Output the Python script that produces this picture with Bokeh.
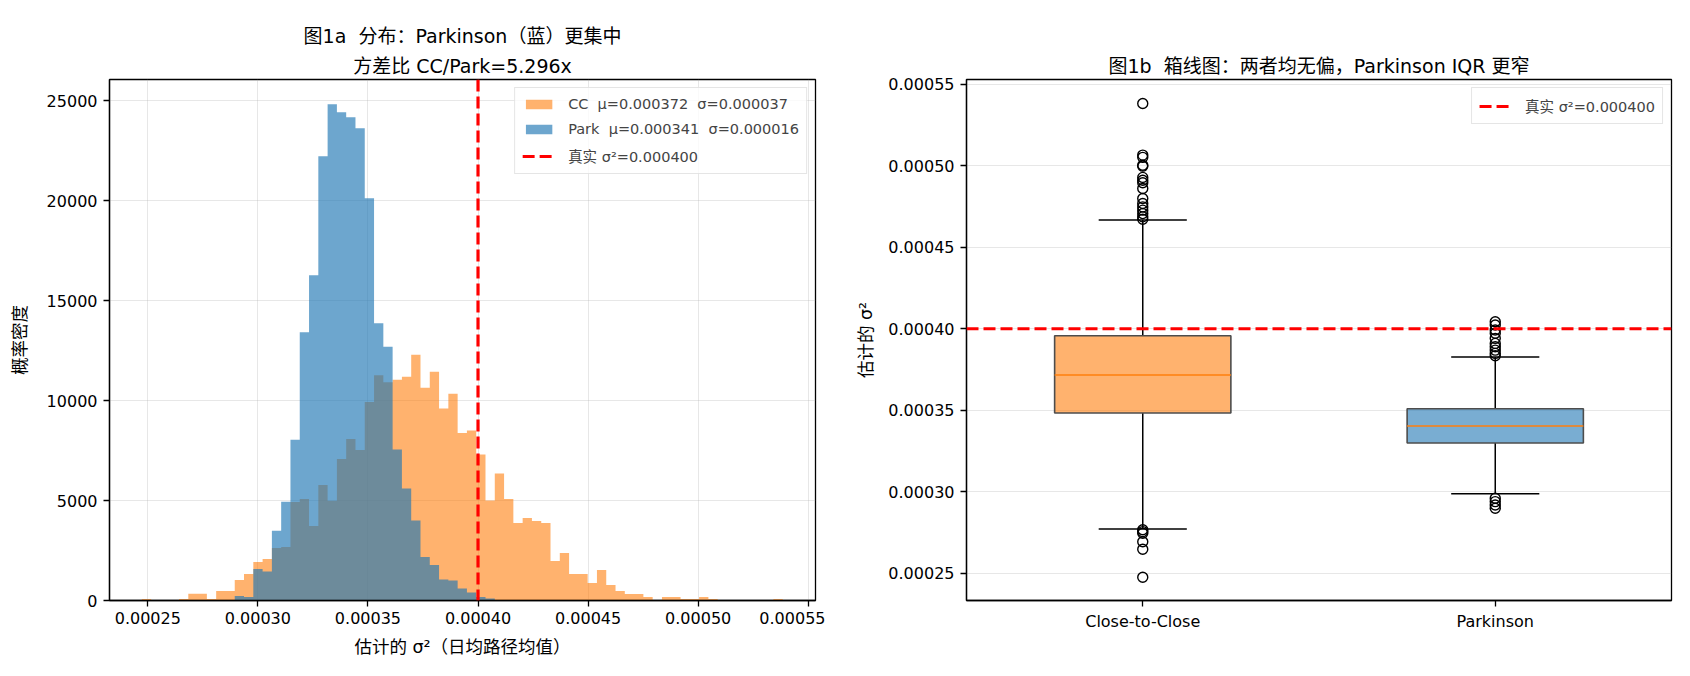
import numpy as np
from bokeh.plotting import figure
from bokeh.layouts import row
from bokeh.models import (Range1d, FixedTicker, PrintfTickFormatter, Span,
                          Legend, LegendItem, Title)
from bokeh.embed import file_html
from bokeh.resources import INLINE

# ---- data ----
TRUE_VAR = 0.0004
BIN_LO, BIN_HI, N_BINS = 0.0002473, 0.0005384, 69

CC_DENSITY = [75, 0, 0, 0, 75, 342, 342, 75, 475, 475,
              1025, 1325, 1925, 2075, 2625, 2675, 4925, 5075, 3725, 5775,
              4992, 7075, 8075, 7525, 9925, 11275, 10925, 11050, 11200, 12300,
              10650, 11450, 9600, 10350, 8375, 8500, 7300, 5000, 6350, 5075,
              3875, 4125, 3975, 3875, 1975, 2375, 1325, 1325, 875, 1525,
              775, 475, 325, 325, 175, 0, 175, 175, 75, 75,
              175, 75, 0, 0, 0, 0, 0, 0, 75]
PARK_DENSITY = [0, 0, 0, 0, 0, 0, 0, 0, 0, 0,
                225, 175, 1575, 1450, 3490, 4940, 8040, 13425, 16275, 22225,
                24825, 24425, 24175, 23625, 20125, 13875, 12700, 7550, 5600, 4000,
                2175, 1775, 1050, 1000, 600, 400, 175, 100, 0, 0,
                0, 0, 0, 0, 0, 0, 0, 0, 0, 0,
                0, 0, 0, 0, 0, 0, 0, 0, 0, 0,
                0, 0, 0, 0, 0, 0, 0, 0, 0]
CC_MEAN, CC_STD = 0.000372, 0.000037
PARK_MEAN, PARK_STD = 0.000341, 0.000016
VAR_RATIO = 5.296

X_TICKS = [0.00025, 0.00030, 0.00035, 0.00040, 0.00045, 0.00050, 0.00055]
Y_TICKS = [0, 5000, 10000, 15000, 20000, 25000]

BOX_NAMES = ["Close-to-Close", "Parkinson"]
BOX_Q1 = [0.0003483, 0.0003299]
BOX_MED = [0.0003716, 0.0003403]
BOX_Q3 = [0.0003957, 0.0003509]
WHISK_LO = [0.0002771, 0.0002988]
WHISK_HI = [0.0004667, 0.0003826]
CC_OUTLIERS = [0.0005383, 0.0005066, 0.0005052, 0.0005004, 0.0004998, 0.0004929,
               0.0004912, 0.0004896, 0.0004861, 0.0004800, 0.0004769, 0.0004748,
               0.0004728, 0.0004707, 0.0004687, 0.0004672,
               0.0002766, 0.0002755, 0.0002745, 0.0002693, 0.0002647, 0.0002475]
PARK_OUTLIERS = [0.0004043, 0.0004023, 0.0003992, 0.0003972, 0.0003941, 0.0003910,
                 0.0003890, 0.0003869, 0.0003849, 0.0003834,
                 0.0002960, 0.0002939, 0.0002918, 0.0002898]
BOX_TICKS = [0.00025, 0.00030, 0.00035, 0.00040, 0.00045, 0.00050, 0.00055]

ORANGE = "#ff7f0e"
BLUE = "#1f77b4"
FONT = "DejaVu Sans, Noto Sans CJK SC"
NB = "\u00a0"


def style_axes(p):
    p.outline_line_color = "black"
    p.outline_line_width = 1.3
    p.outline_line_alpha = 1
    p.axis.axis_line_color = "black"
    p.axis.axis_line_width = 1.3
    p.axis.major_tick_line_color = "black"
    p.axis.major_tick_line_width = 1.3
    p.axis.major_tick_out = 6
    p.axis.major_tick_in = 0
    p.axis.minor_tick_line_color = None
    p.axis.major_label_text_font = FONT
    p.axis.major_label_text_font_size = "16px"
    p.axis.major_label_text_color = "black"
    p.axis.axis_label_text_font = FONT
    p.axis.axis_label_text_font_size = "17.5px"
    p.axis.axis_label_text_font_style = "normal"
    p.axis.axis_label_text_color = "black"
    p.xaxis.major_label_standoff = 5
    p.yaxis.major_label_standoff = 6
    p.grid.grid_line_color = "#b0b0b0"
    p.grid.grid_line_alpha = 0.3
    p.grid.grid_line_width = 1


def add_title(p, text, standoff=6):
    p.add_layout(Title(text=text, align="center", text_font=FONT,
                       text_font_size="19px", text_font_style="normal",
                       text_color="black", standoff=standoff), "above")


def style_legend(lg):
    lg.label_text_font = FONT
    lg.label_text_font_size = "14.5px"
    lg.glyph_width = 33
    lg.glyph_height = 12
    lg.label_standoff = 13
    lg.label_height = 18
    lg.spacing = 7
    lg.padding = 7
    lg.margin = 8
    lg.border_line_color = "#cccccc"
    lg.border_line_width = 1
    lg.background_fill_alpha = 0.8


# ---- left: histograms ----
p1 = figure(width=825, height=668, output_backend="svg", toolbar_location=None,
            x_range=Range1d(0.0002326, 0.0005533), y_range=Range1d(0, 26066),
            min_border_left=109, min_border_right=10,
            min_border_top=79, min_border_bottom=68,
            x_axis_label="估计的 σ²（日均路径均值）", y_axis_label="概率密度")
style_axes(p1)
p1.xaxis.ticker = FixedTicker(ticks=X_TICKS)
p1.xaxis.formatter = PrintfTickFormatter(format="%.5f")
p1.yaxis.ticker = FixedTicker(ticks=Y_TICKS)
p1.yaxis.formatter = PrintfTickFormatter(format="%d")
p1.xaxis.axis_label_standoff = 10
p1.yaxis.axis_label_standoff = 14

edges = np.linspace(BIN_LO, BIN_HI, N_BINS + 1)
cc_top = list(CC_DENSITY) + [CC_DENSITY[-1]]
park_top = list(PARK_DENSITY) + [PARK_DENSITY[-1]]
r_cc = p1.varea_step(x=edges, y1=0, y2=cc_top, step_mode="after",
                     fill_color=ORANGE, fill_alpha=0.6)
r_park = p1.varea_step(x=edges, y1=0, y2=park_top, step_mode="after",
                       fill_color=BLUE, fill_alpha=0.65)
p1.add_layout(Span(location=TRUE_VAR, dimension="height", line_color="red",
                   line_dash="12 5", line_width=3.2))
# one-point line: draws nothing on the plot, only gives the legend its glyph
r_true1 = p1.line(x=[TRUE_VAR], y=[0], line_color="red", line_dash="12 5", line_width=3.2)

lg1 = Legend(items=[
    LegendItem(label=f"CC {NB}μ={CC_MEAN:.6f} {NB}σ={CC_STD:.6f}", renderers=[r_cc]),
    LegendItem(label=f"Park {NB}μ={PARK_MEAN:.6f} {NB}σ={PARK_STD:.6f}", renderers=[r_park]),
    LegendItem(label=f"真实 σ²={TRUE_VAR:.6f}", renderers=[r_true1]),
], location="top_right")
style_legend(lg1)
p1.add_layout(lg1)

add_title(p1, f"方差比 CC/Park={VAR_RATIO:.3f}x", standoff=6)
add_title(p1, f"图1a {NB}分布：Parkinson（蓝）更集中", standoff=6)

# ---- right: box plots ----
pos = [1, 2]
p2 = figure(width=857, height=668, output_backend="svg", toolbar_location=None,
            x_range=Range1d(0.5, 2.5), y_range=Range1d(0.0002332, 0.000553),
            min_border_left=141, min_border_right=11,
            min_border_top=79, min_border_bottom=68,
            y_axis_label="估计的 σ²")
style_axes(p2)
p2.xgrid.grid_line_color = None
p2.xaxis.ticker = FixedTicker(ticks=pos)
p2.xaxis.major_label_overrides = {pos[i]: BOX_NAMES[i] for i in range(len(pos))}
p2.yaxis.ticker = FixedTicker(ticks=BOX_TICKS)
p2.yaxis.formatter = PrintfTickFormatter(format="%.5f")
p2.yaxis.axis_label_standoff = 9

half_cap = 0.125
p2.segment(x0=pos, x1=pos, y0=BOX_Q3, y1=WHISK_HI, line_color="black", line_width=1.5)
p2.segment(x0=pos, x1=pos, y0=BOX_Q1, y1=WHISK_LO, line_color="black", line_width=1.5)
p2.segment(x0=[x - half_cap for x in pos], x1=[x + half_cap for x in pos],
           y0=WHISK_HI, y1=WHISK_HI, line_color="black", line_width=1.5)
p2.segment(x0=[x - half_cap for x in pos], x1=[x + half_cap for x in pos],
           y0=WHISK_LO, y1=WHISK_LO, line_color="black", line_width=1.5)
p2.vbar(x=pos, width=0.5, bottom=BOX_Q1, top=BOX_Q3, fill_color=[ORANGE, BLUE],
        fill_alpha=0.6, line_color="#4d4d4d", line_width=1.6)
p2.segment(x0=[x - 0.25 for x in pos], x1=[x + 0.25 for x in pos],
           y0=BOX_MED, y1=BOX_MED, line_color=ORANGE, line_width=1.6)
p2.scatter(x=[pos[0]] * len(CC_OUTLIERS), y=CC_OUTLIERS, marker="circle", size=10,
           fill_color=None, line_color="black", line_width=1.4)
p2.scatter(x=[pos[1]] * len(PARK_OUTLIERS), y=PARK_OUTLIERS, marker="circle", size=10,
           fill_color=None, line_color="black", line_width=1.4)

p2.add_layout(Span(location=TRUE_VAR, dimension="width", line_color="red",
                   line_dash="12 5", line_width=3.2))
r_true2 = p2.line(x=[pos[0]], y=[TRUE_VAR], line_color="red", line_dash="12 5", line_width=3.2)
lg2 = Legend(items=[LegendItem(label=f"真实 σ²={TRUE_VAR:.6f}", renderers=[r_true2])],
             location="top_right")
style_legend(lg2)
p2.add_layout(lg2)

add_title(p2, f"图1b {NB}箱线图：两者均无偏，Parkinson IQR 更窄", standoff=6)

layout = row(p1, p2)
open("out.html", "w").write(file_html(layout, INLINE))
